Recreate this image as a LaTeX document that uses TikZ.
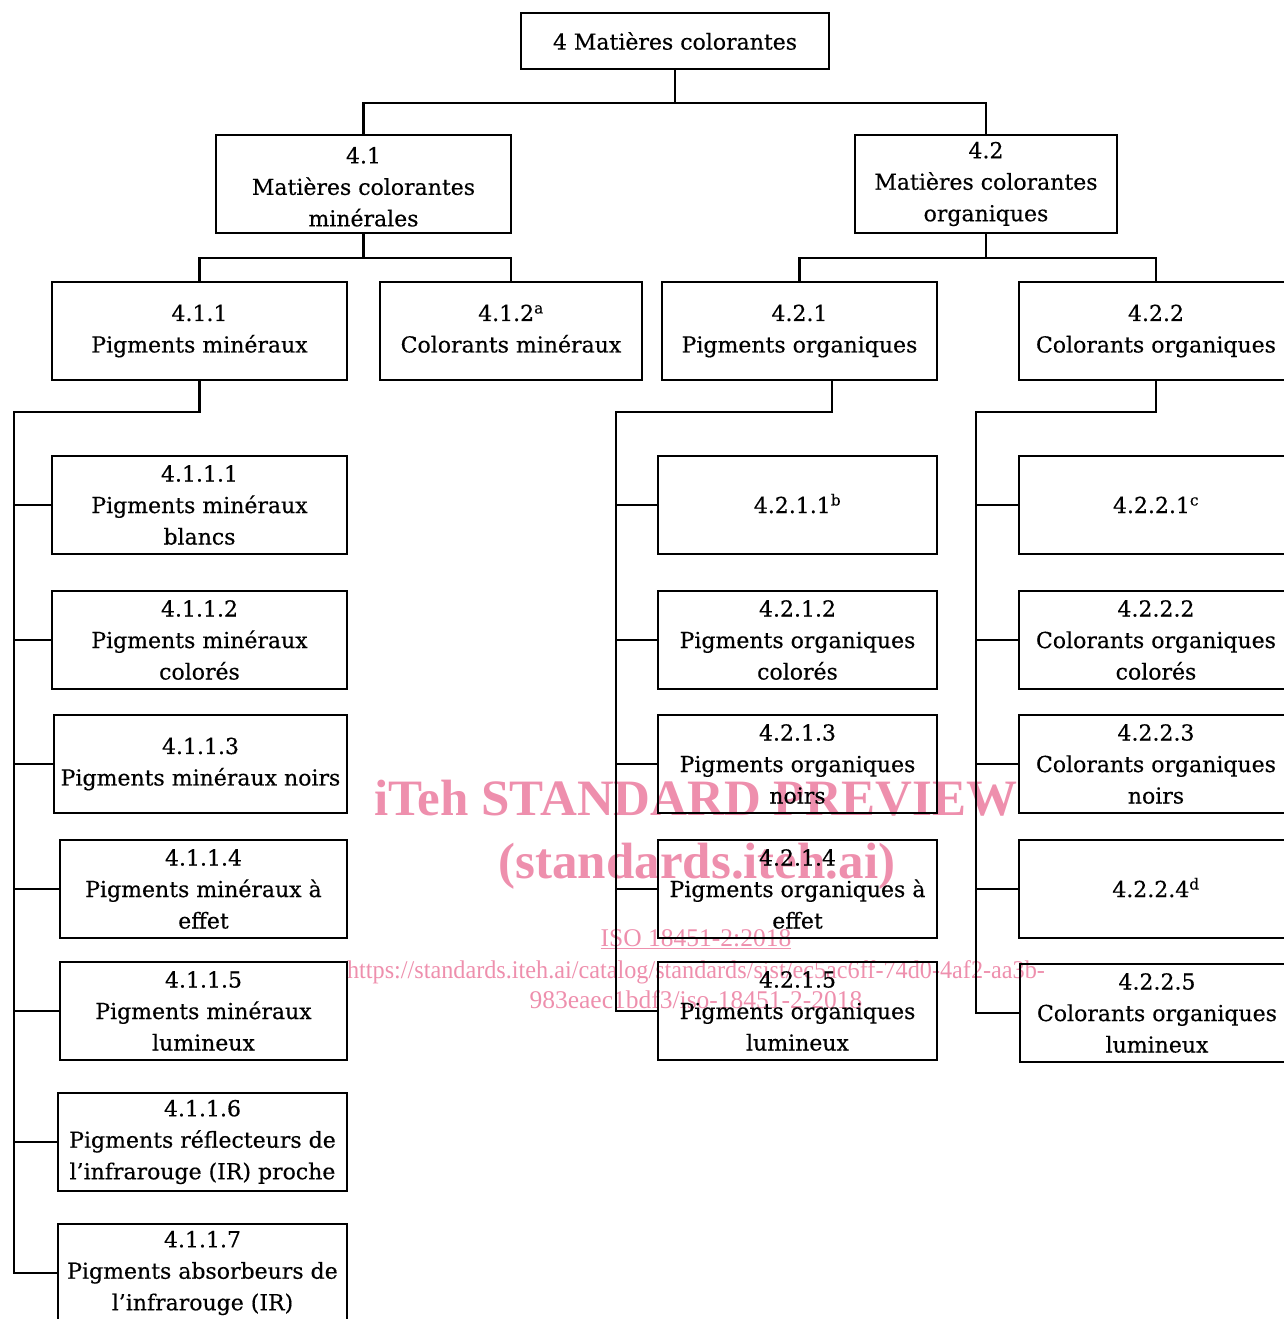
\documentclass[tikz,border=0pt]{standalone}
\usepackage{fontspec}
\setmainfont{DejaVu Serif}[FakeBold=0.4]
\newfontfamily\wmfont{Liberation Serif}
\usetikzlibrary{calc}
\definecolor{wmpink}{HTML}{EE8FAD}
\newcommand{\supnote}[1]{\smash{\textsuperscript{#1}}}
\begin{document}
\begin{tikzpicture}[x=1pt,y=-1pt,
  box/.style={draw, line width=2.7pt, align=center, inner sep=0pt,
    font=\fontsize{22}{31.5}\selectfont},
  conn/.style={line width=2.9pt, line cap=rect, line join=miter},
  wmbig/.style={text=wmpink, anchor=base, inner sep=0pt,
    font=\wmfont\bfseries\fontsize{51}{51}\selectfont},
  wmsmall/.style={text=wmpink, anchor=base, inner sep=0pt,
    font=\wmfont\fontsize{25.5}{25.5}\selectfont}]
\useasboundingbox (0,0) rectangle (1284,1319);
\clip (0,0) rectangle (1284,1319);

% watermark (behind)
\node[wmbig] (wm1) at (696,815) {iTeh STANDARD PREVIEW};
\node[wmbig] (wm2) at (697,878) {(standards.iteh.ai)};
\node[wmsmall] (wm3) at (696,946) {\underline{ISO 18451-2:2018}};
\node[wmsmall] (wm4) at (696,978) {\scalebox{0.95}[1]{https://standards.iteh.ai/catalog/standards/sist/ec5ac6ff-74d0-4af2-aa3b-}};
\node[wmsmall] (wm5) at (696,1008) {983eaec1bdf3/iso-18451-2-2018};

% level 0
\node[box, minimum width=308pt, minimum height=56pt] (top) at (675,41) {4 Matières colorantes};
% level 1
\node[box, minimum width=295pt, minimum height=98pt] (n41) at (363.5,184) {\rule{0pt}{22pt}4.1\\Matières colorantes\\minérales};
\node[box, minimum width=262pt, minimum height=98pt] (n42) at (986,184) {4.2\\Matières colorantes\\organiques};
% level 2
\node[box, minimum width=295pt, minimum height=98pt] (n411) at (199.5,331) {4.1.1\\Pigments minéraux};
\node[box, minimum width=262pt, minimum height=98pt] (n412) at (511,331) {4.1.2\supnote{a}\\Colorants minéraux\vphantom{g}};
\node[box, minimum width=275pt, minimum height=98pt] (n421) at (799.5,331) {4.2.1\\Pigments organiques};
\node[box, minimum width=274pt, minimum height=98pt] (n422) at (1156,331) {4.2.2\\Colorants organiques};
% 4.1.1 children
\node[box, minimum width=295pt, minimum height=98pt] (n4111) at (199.5,505) {4.1.1.1\\Pigments minéraux\\blancs};
\node[box, minimum width=295pt, minimum height=98pt] (n4112) at (199.5,640) {4.1.1.2\\Pigments minéraux\\colorés};
\node[box, minimum width=293pt, minimum height=98pt] (n4113) at (200.5,764) {4.1.1.3\\Pigments minéraux noirs};
\node[box, minimum width=287pt, minimum height=98pt] (n4114) at (203.5,889) {4.1.1.4\\Pigments minéraux à\\effet};
\node[box, minimum width=287pt, minimum height=98pt] (n4115) at (203.5,1011) {4.1.1.5\\Pigments minéraux\\lumineux};
\node[box, minimum width=289pt, minimum height=98pt] (n4116) at (202.5,1142) {4.1.1.6\\Pigments réflecteurs de\\l’infrarouge (IR) proche};
\node[box, minimum width=289pt, minimum height=98pt] (n4117) at (202.5,1273) {4.1.1.7\\Pigments absorbeurs de\\l’infrarouge (IR)};
% 4.2.1 children
\node[box, minimum width=279pt, minimum height=98pt] (n4211) at (797.5,505) {4.2.1.1\supnote{b}};
\node[box, minimum width=279pt, minimum height=98pt] (n4212) at (797.5,640) {4.2.1.2\\Pigments organiques\\colorés};
\node[box, minimum width=279pt, minimum height=98pt] (n4213) at (797.5,764) {4.2.1.3\\Pigments organiques\\noirs};
\node[box, minimum width=279pt, minimum height=98pt] (n4214) at (797.5,889) {4.2.1.4\\Pigments organiques à\\effet};
\node[box, minimum width=279pt, minimum height=98pt] (n4215) at (797.5,1011) {4.2.1.5\\Pigments organiques\\lumineux};
% 4.2.2 children
\node[box, minimum width=274pt, minimum height=98pt] (n4221) at (1156,505) {4.2.2.1\supnote{c}};
\node[box, minimum width=274pt, minimum height=98pt] (n4222) at (1156,640) {4.2.2.2\\Colorants organiques\\colorés};
\node[box, minimum width=274pt, minimum height=98pt] (n4223) at (1156,764) {4.2.2.3\\Colorants organiques\\noirs};
\node[box, minimum width=274pt, minimum height=98pt] (n4224) at (1156,889) {4.2.2.4\supnote{d}};
\node[box, minimum width=274pt, minimum height=98pt] (n4225) at (1157,1013) {4.2.2.5\\Colorants organiques\\lumineux};

% connectors level 0-1
\coordinate (j0) at (675,103);
\draw[conn] (top.south) -- (j0);
\draw[conn] (n41.north) |- (j0) -| (n42.north);
% level 1-2
\coordinate (j41) at (363.5,258);
\draw[conn] (n41.south) -- (j41);
\draw[conn] (n411.north) |- (j41) -| (n412.north);
\coordinate (j42) at (986,258);
\draw[conn] (n42.south) -- (j42);
\draw[conn] (n421.north) |- (j42) -| (n422.north);
% 4.1.1 bar
\coordinate (b411) at (14,412);
\draw[conn] (n411.south) |- (b411);
\foreach \c in {n4111,n4112,n4113,n4114,n4115,n4116,n4117}
  \draw[conn] (b411) |- (\c.west);
% 4.2.1 bar
\coordinate (b421) at (616,412);
\draw[conn] ($(n421.south)+(32.5,0)$) |- (b421);
\foreach \c in {n4211,n4212,n4213,n4214,n4215}
  \draw[conn] (b421) |- (\c.west);
% 4.2.2 bar
\coordinate (b422) at (976,412);
\draw[conn] (n422.south) |- (b422);
\foreach \c in {n4221,n4222,n4223,n4224,n4225}
  \draw[conn] (b422) |- (\c.west);
\end{tikzpicture}
\end{document}
